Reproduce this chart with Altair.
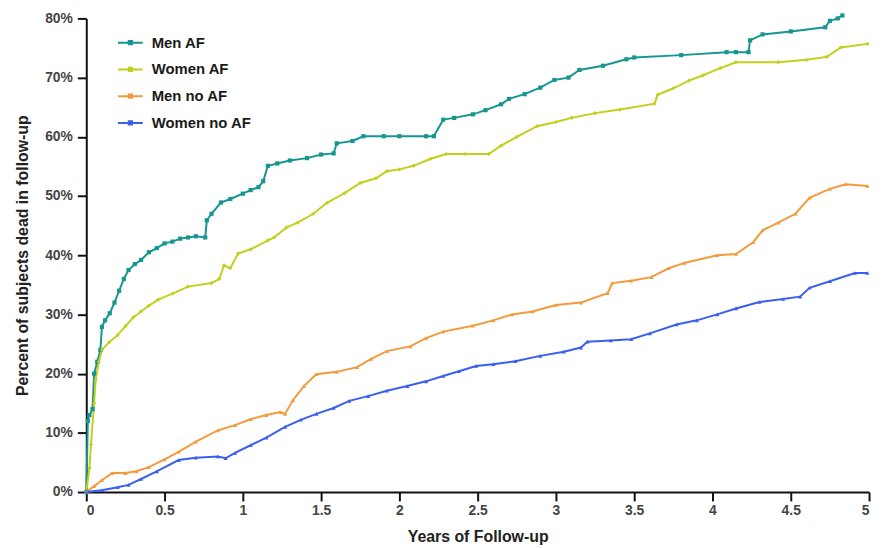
import altair as alt
import pandas as pd

SERIES = ["Men AF", "Women AF", "Men no AF", "Women no AF"]
COLORS = ["#169690", "#c3cf1c", "#f39a3c", "#3a5ff0"]
SHAPES = ["square", "diamond", "triangle-up", "triangle-up"]

X_TICKS = [0, 0.5, 1, 1.5, 2, 2.5, 3, 3.5, 4, 4.5, 5]
Y_TICKS = [0, 10, 20, 30, 40, 50, 60, 70, 80]

MEN_AF = [(0, 0), (0.01, 12), (0.02, 13), (0.04, 14), (0.05, 20), (0.07, 22), (0.09, 24),
          (0.1, 27.9), (0.12, 29), (0.15, 30.2), (0.18, 32), (0.21, 34), (0.24, 36),
          (0.27, 37.5), (0.31, 38.5), (0.35, 39.2), (0.4, 40.5), (0.45, 41.2), (0.5, 42),
          (0.55, 42.3), (0.6, 42.8), (0.65, 43), (0.7, 43.2), (0.76, 43), (0.77, 45.9),
          (0.8, 47), (0.86, 48.9), (0.92, 49.5), (1.0, 50.4), (1.05, 51), (1.1, 51.5),
          (1.13, 52.5), (1.16, 55.1), (1.22, 55.5), (1.3, 56), (1.41, 56.4), (1.5, 57),
          (1.58, 57.2), (1.6, 58.9), (1.7, 59.3), (1.77, 60.1), (1.9, 60.1), (2.0, 60.1),
          (2.17, 60.1), (2.22, 60.1), (2.28, 62.9), (2.35, 63.2), (2.47, 63.8), (2.55, 64.5),
          (2.65, 65.5), (2.7, 66.4), (2.8, 67.2), (2.9, 68.3), (2.99, 69.6), (3.08, 70),
          (3.15, 71.3), (3.3, 72), (3.45, 73.1), (3.5, 73.4), (3.8, 73.8), (4.09, 74.3),
          (4.15, 74.3), (4.23, 74.3), (4.24, 76.3), (4.32, 77.3), (4.5, 77.8), (4.72, 78.5),
          (4.75, 79.6), (4.8, 80), (4.83, 80.5)]

WOMEN_AF = [(0, 0), (0.02, 4), (0.03, 8), (0.05, 15), (0.06, 19), (0.08, 22), (0.1, 24),
            (0.146, 25.3), (0.2, 26.5), (0.25, 28), (0.3, 29.5), (0.35, 30.5), (0.4, 31.5),
            (0.46, 32.5), (0.55, 33.5), (0.65, 34.7), (0.8, 35.3), (0.85, 36), (0.88, 38.3),
            (0.92, 37.8), (0.97, 40.3), (1.05, 41), (1.16, 42.5), (1.2, 43), (1.28, 44.7),
            (1.35, 45.5), (1.45, 47), (1.54, 48.9), (1.65, 50.5), (1.75, 52.2), (1.85, 53),
            (1.92, 54.2), (2.0, 54.5), (2.09, 55.1), (2.2, 56.3), (2.3, 57.1), (2.42, 57.1),
            (2.57, 57.1), (2.65, 58.5), (2.75, 60), (2.88, 61.8), (3.0, 62.5), (3.1, 63.2),
            (3.25, 64), (3.41, 64.6), (3.63, 65.6), (3.65, 67.1), (3.75, 68.2), (3.85, 69.5),
            (3.94, 70.4), (4.05, 71.6), (4.15, 72.6), (4.42, 72.6), (4.6, 73), (4.73, 73.5),
            (4.82, 75.1), (4.99, 75.7)]

MEN_NO_AF = [(0, 0), (0.05, 1), (0.1, 2), (0.165, 3.2), (0.25, 3.2), (0.32, 3.5), (0.4, 4.2),
             (0.5, 5.5), (0.59, 6.8), (0.7, 8.5), (0.84, 10.4), (0.95, 11.3), (1.05, 12.3),
             (1.15, 13), (1.24, 13.5), (1.27, 13.2), (1.32, 15.5), (1.39, 17.9), (1.47, 19.9),
             (1.6, 20.3), (1.73, 21.1), (1.82, 22.5), (1.92, 23.8), (2.07, 24.6), (2.17, 26),
             (2.28, 27.1), (2.47, 28.1), (2.6, 29), (2.72, 30), (2.85, 30.5), (3.0, 31.6),
             (3.16, 32), (3.33, 33.6), (3.36, 35.3), (3.48, 35.7), (3.61, 36.3), (3.72, 37.8),
             (3.82, 38.7), (4.03, 40), (4.15, 40.2), (4.26, 42.2), (4.32, 44.2), (4.42, 45.5),
             (4.53, 47), (4.62, 49.7), (4.75, 51.2), (4.85, 52), (4.99, 51.7)]

WOMEN_NO_AF = [(0, 0), (0.1, 0.3), (0.2, 0.8), (0.27, 1.2), (0.35, 2.2), (0.45, 3.5),
               (0.59, 5.4), (0.7, 5.8), (0.84, 6), (0.89, 5.7), (0.95, 6.6), (1.05, 7.9),
               (1.15, 9.2), (1.27, 11), (1.37, 12.2), (1.47, 13.2), (1.58, 14.2), (1.68, 15.4),
               (1.8, 16.2), (1.92, 17.1), (2.05, 17.9), (2.17, 18.7), (2.28, 19.6), (2.38, 20.4),
               (2.49, 21.3), (2.6, 21.6), (2.74, 22.1), (2.9, 23), (3.05, 23.7), (3.16, 24.4),
               (3.2, 25.4), (3.35, 25.6), (3.48, 25.8), (3.6, 26.8), (3.77, 28.3), (3.9, 29),
               (4.03, 30), (4.15, 31), (4.3, 32.1), (4.45, 32.6), (4.56, 33), (4.62, 34.5),
               (4.75, 35.6), (4.91, 37), (4.99, 37)]

rows = []
for name, pts in zip(SERIES, [MEN_AF, WOMEN_AF, MEN_NO_AF, WOMEN_NO_AF]):
    for i, (t, p) in enumerate(pts):
        rows.append({"series": name, "t": t, "p": p, "order": i})
df = pd.DataFrame(rows)

FONT = "Liberation Sans"

x = alt.X("t:Q", scale=alt.Scale(domain=[0, 5], nice=False, zero=False),
          axis=alt.Axis(title="Years of Follow-up", values=X_TICKS, format="~g",
                        titlePadding=11, labelPadding=3))
y = alt.Y("p:Q", scale=alt.Scale(domain=[0, 80], nice=False),
          axis=alt.Axis(title="Percent of subjects dead in follow-up", values=Y_TICKS,
                        labelExpr="datum.value + '%'", titlePadding=14, labelPadding=5))

legend_path = "M-1,0H1M-0.13,-0.13H0.13V0.13H-0.13Z"

lines = alt.Chart(df).mark_line(strokeWidth=2).encode(
    x=x, y=y, order="order:Q",
    color=alt.Color("series:N", scale=alt.Scale(domain=SERIES, range=COLORS),
                    legend=alt.Legend(title=None, orient="none", legendX=31, legendY=11,
                                      symbolType=legend_path, symbolSize=625,
                                      symbolStrokeWidth=2, rowPadding=5, labelOffset=8,
                                      labelFont=FONT, labelFontWeight="bold",
                                      labelFontSize=15, labelColor="#1a1a1a")),
)

points = alt.Chart(df).mark_point(filled=True, size=18, opacity=1).encode(
    x=x, y=y,
    color=alt.Color("series:N", scale=alt.Scale(domain=SERIES, range=COLORS), legend=None),
    shape=alt.Shape("series:N", scale=alt.Scale(domain=SERIES, range=SHAPES), legend=None),
)

chart = alt.layer(lines, points).resolve_scale(color="independent").properties(
    width=790, height=478,
    autosize=alt.AutoSizeParams(type="none"),
    padding={"left": 79, "top": 8, "right": 4, "bottom": 56},
).configure_view(stroke=None).configure_axis(
    grid=False, domainColor="#111", domainWidth=2, tickColor="#111", tickWidth=2,
    tickSize=9, labelFont=FONT, labelFontWeight="bold", labelFontSize=14,
    labelColor="#444", titleFont=FONT, titleFontWeight="bold", titleFontSize=16,
    titleColor="#222",
)

chart.save("out.html", embed_options={"renderer": "svg", "actions": False})
